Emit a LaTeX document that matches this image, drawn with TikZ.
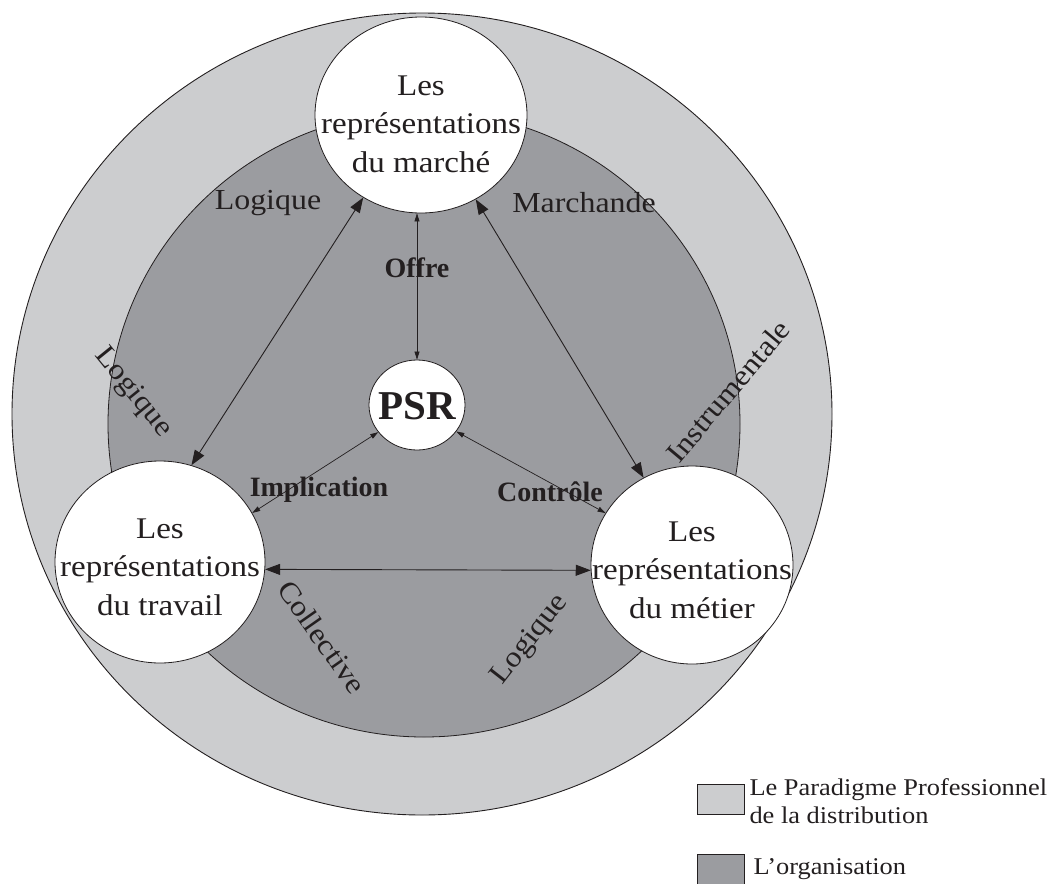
\documentclass[tikz,border=0pt]{standalone}
\usepackage{fontspec}
\setmainfont{Liberation Serif}[FakeStretch=1.1,BoldFeatures={FakeStretch=1.0}]
\usetikzlibrary{shapes.geometric,arrows.meta}
\definecolor{lightg}{RGB}{204,205,207}
\definecolor{darkg}{RGB}{155,156,160}
\definecolor{ink}{RGB}{35,31,32}
\tikzset{
  bubble/.style={ellipse,draw=ink,fill=white,line width=0.8pt,inner sep=0pt},
  bigtext/.style={align=center,text=ink,font=\fontsize{30}{38.5}\selectfont},
  lab/.style={text=ink,font=\fontsize{29}{34}\selectfont},
  blab/.style={text=ink,font=\bfseries\fontsize{28}{32}\selectfont},
  bigarrow/.style={draw=ink,line width=0.9pt,{Triangle[length=15pt,width=11pt]}-{Triangle[length=15pt,width=11pt]}},
  smallarrow/.style={draw=ink,line width=0.7pt,{Triangle[length=8pt,width=5pt]}-{Triangle[length=8pt,width=5pt]}},
  legbox/.style={draw=ink,line width=0.6pt}
}
\begin{document}
\begin{tikzpicture}[x=1pt,y=-1pt]
\useasboundingbox (0,0) rectangle (1053,884);
% rings
\draw[fill=lightg,draw=ink,line width=0.9pt] (422,414) ellipse [x radius=410,y radius=401];
\draw[fill=darkg,draw=ink,line width=0.8pt] (424,424) ellipse [x radius=316,y radius=313];
% main nodes
\node[bubble,minimum width=212pt,minimum height=196pt] (top) at (421,115) {};
\node[bubble,minimum width=210pt,minimum height=202pt] (bl) at (160,562) {};
\node[bubble,minimum width=202pt,minimum height=198pt] (br) at (692,565) {};
\node[bubble,minimum width=96pt,minimum height=90pt] (psr) at (417,405) {};
\node[bigtext] at (421,124) {Les\\représentations\\du marché};
\node[bigtext] at (160,567) {Les\\représentations\\du travail};
\node[bigtext] at (692,570) {Les\\représentations\\du métier};
\node[text=ink,font=\bfseries\fontsize{41}{44}\selectfont] at (417,406) {PSR};
% connectors
\draw[smallarrow] (psr.north) -- (psr.north |- top.south);
\draw[bigarrow] (top.235) -- (bl.72);
\draw[bigarrow] (top.303) -- (br.119);
\draw[bigarrow] (bl.-4) -- (br.183);
\draw[smallarrow] (psr.215) -- (bl.28);
\draw[smallarrow] (psr.-34) -- (br.149);
% labels
\node[lab] at (268,203) {Logique};
\node[lab] at (584,203) {Marchande};
\node[blab] at (417,268) {Offre};
\node[blab] at (319,490) {Implication};
\node[blab] at (550,492) {Contrôle};
\node[lab,rotate=-51] at (133,393) {Logique};
\node[lab,rotate=50] at (728,391) {Instrumentale};
\node[lab,rotate=-55] at (322,637) {Collective};
\node[lab,rotate=52] at (530,640) {Logique};
% legend
\draw[legbox,fill=lightg] (697,784) rectangle (744,814);
\draw[legbox,fill=darkg] (697,854) rectangle (744,890);
\node[lab,font=\fontsize{24}{28}\selectfont,align=left,anchor=west] at (746,801) {Le Paradigme Professionnel\\de la distribution};
\node[lab,font=\fontsize{24}{28}\selectfont,anchor=west] at (750,869) {L’organisation};
\end{tikzpicture}
\end{document}
